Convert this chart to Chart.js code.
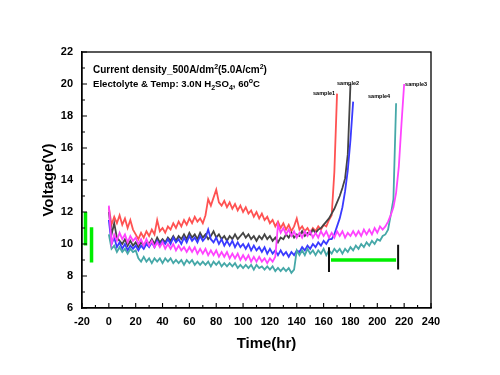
<!DOCTYPE html>
<html>
<head>
<meta charset="utf-8">
<script src="https://cdn.jsdelivr.net/npm/chart.js@4/dist/chart.umd.min.js"></script>
<style>
html,body{margin:0;padding:0;background:#fff;}
#wrap{width:500px;height:375px;position:relative;}
</style>
</head>
<body>
<div id="wrap"><canvas id="c" width="500" height="375"></canvas></div>
<script>
// ---- data ----
const hours = [0,2,4,6,8,10,12,14,16,18,20,22,24,26,28,30,32,34,36,38,40,42,44,46,48,50,52,54,56,58,60,62,64,66,68,70,72,74,76,78,80,82,84,86,88,90,92,94,96,98,100,102,104,106,108,110,112,114,116,118,120,122,124,126,128,130,132,134,136,138,140,142,144,146,148,150,152,154,156,158,160,162,164,166,168,170,172,174,176,178,180,182,184,186,188,190,192,194,196,198,200,202,204,206,208,210,212,214,216,218,220];

const sample1Red = [12.3,11.2,11.7,11.3,11.8,11.2,11.6,11.0,11.5,10.9,
  10.6,10.3,10.7,10.4,10.8,10.5,10.9,10.6,11.5,10.8,
  11.0,10.7,11.1,10.9,11.3,11.0,11.4,11.1,11.5,11.2,
  11.6,11.3,11.7,11.4,11.6,11.3,11.8,12.8,12.4,12.9,
  13.4,12.6,12.4,12.7,12.3,12.6,12.2,12.5,12.1,12.4,
  12.0,12.3,11.9,12.1,11.7,12.0,11.6,11.9,11.5,11.7,
  11.3,11.5,11.1,11.4,11.0,11.3,10.9,11.2,10.8,11.1,
  11.6,10.9,11.1,10.8,11.0,10.7,11.0,10.8,11.1,10.9,
  11.2,11.1,11.5,11.8,14.5,19.4];

const sample2Black = [12.0,10.6,11.3,10.4,10.2,10.0,10.3,9.9,10.2,9.9,
  10.1,9.8,10.1,9.9,10.2,10.0,10.3,10.0,10.4,10.1,
  10.3,10.1,10.4,10.2,10.5,10.2,10.5,10.3,10.6,10.3,
  10.7,10.4,10.6,10.3,10.7,10.4,10.6,10.3,10.5,10.8,
  10.4,10.6,10.3,10.5,10.2,10.5,10.3,10.6,10.3,10.5,
  10.7,10.4,10.6,10.3,10.5,10.2,10.5,10.3,10.6,10.3,
  10.5,10.2,10.4,10.1,10.4,10.3,10.6,10.4,10.7,10.4,
  10.6,10.5,10.8,10.5,10.7,10.6,10.9,10.7,10.9,11.0,
  11.2,11.4,11.6,11.9,12.2,12.6,13.0,13.5,14.1,15.6,
  20.0];

const sample2Blue = [11.5,10.0,10.4,9.8,10.1,9.7,10.0,9.6,9.9,9.7,
  9.9,9.6,9.9,9.7,10.0,9.8,10.1,9.8,10.2,9.9,
  10.2,10.0,10.3,10.0,10.4,10.1,10.3,10.0,10.4,10.1,
  10.5,10.2,10.4,10.1,10.5,10.2,10.4,10.9,10.3,10.1,
  10.4,10.0,10.3,9.9,10.2,9.9,10.2,9.8,10.1,9.8,
  10.0,9.7,10.0,9.6,9.9,9.6,9.8,9.5,9.8,9.4,
  9.7,9.4,9.6,9.3,9.6,9.3,9.5,9.2,9.5,9.3,
  9.6,9.5,9.8,9.6,9.9,9.7,10.0,9.8,10.1,9.9,
  10.2,10.0,10.3,10.3,10.6,11.1,11.6,12.3,13.3,14.6,
  16.5,18.9];

const sample3Magenta = [12.4,10.0,10.6,10.2,10.7,10.3,10.6,10.1,10.5,10.2,
  10.4,10.0,10.3,9.9,10.3,9.9,10.2,9.8,10.1,9.8,
  10.1,9.7,10.0,9.7,10.0,9.6,9.9,9.6,9.8,9.5,
  9.8,9.5,9.8,9.4,9.7,9.4,9.7,9.3,9.6,9.3,
  9.6,9.2,9.5,9.2,9.5,9.1,9.4,9.1,9.4,9.0,
  9.3,9.0,9.3,8.9,9.2,8.9,9.2,8.9,9.1,8.8,
  9.1,8.9,9.2,11.2,10.7,11.0,10.6,10.9,10.5,10.8,
  10.4,10.7,10.4,10.8,10.5,10.8,10.4,10.7,10.4,10.8,
  10.5,10.8,10.4,10.7,10.4,10.8,10.5,10.8,10.4,10.7,
  10.5,10.8,10.5,10.8,10.5,10.9,10.6,10.9,10.6,11.0,
  10.7,11.1,10.9,11.1,11.4,11.8,12.3,13.2,14.8,17.5,
  20.0];

const sample4Teal = [10.6,9.7,9.9,9.5,9.8,9.5,9.7,9.4,9.7,9.5,
  9.6,9.1,8.9,9.2,8.9,9.1,8.8,9.1,8.9,9.1,
  8.8,9.1,8.9,9.1,8.8,9.0,8.8,9.0,8.7,9.0,
  8.8,9.0,8.7,8.9,8.7,8.9,8.7,8.9,8.6,8.9,
  8.7,8.9,8.6,8.8,8.6,8.8,8.6,8.8,8.5,8.7,
  8.5,8.7,8.5,8.7,8.4,8.7,8.5,8.6,8.4,8.6,
  8.4,8.6,8.3,8.5,8.3,8.5,8.3,8.5,8.2,8.4,
  9.6,9.3,9.6,9.3,9.7,9.4,9.6,9.3,9.6,9.4,
  9.7,9.3,9.6,9.4,9.7,9.5,9.7,9.4,9.7,9.5,
  9.8,9.6,9.9,9.7,10.0,9.8,10.1,9.9,10.2,10.0,
  10.3,10.2,10.5,10.6,10.9,11.8,12.8,18.8];

// green range markers and bracket (time, voltage)
const markBar1T = [-17.4, -17.4], markBar1V = [12.0, 9.9];
const markBar2T = [-12.9, -12.9], markBar2V = [11.05, 8.85];
const bracketLeftT = [164, 164], bracketLeftV = [9.8, 8.25];
const bracketRightT = [215.5, 215.5], bracketRightV = [9.95, 8.4];
const bracketLineT = [165.5, 214], bracketLineV = [9.0, 9.0];

// sample labels (text, time, voltage)
const sampleLabels = ['sample1','sample2','sample4','sample3'];
const sampleLabelT = [160.3, 178.2, 201.3, 228.9];
const sampleLabelV = [19.4, 20.06, 19.19, 19.94];

const xTicks = [-20,0,20,40,60,80,100,120,140,160,180,200,220,240];
const yTicks = [6,8,10,12,14,16,18,20,22];

// ---- build ----
function pts(xs, ys){ return ys.map((v,i)=>({x:xs[i], y:v})); }
const FONT = "'Liberation Sans', Arial, sans-serif";

function series(label, vals, color, order){
  return {label, data: pts(hours, vals), borderColor: color, backgroundColor: color,
    borderWidth: 1.8, pointRadius: 0, showLine: true, tension: 0, order};
}
function mark(xs, ys, color, w){
  return {data: pts(xs, ys), borderColor: color, backgroundColor: color, borderWidth: w,
    pointRadius: 0, showLine: true, order: 0, borderCapStyle: 'butt'};
}

const datasets = [
  mark(markBar1T, markBar1V, '#00ee00', 3.5),
  mark(markBar2T, markBar2V, '#00ee00', 3.5),
  mark(bracketLeftT, bracketLeftV, '#111111', 2),
  mark(bracketRightT, bracketRightV, '#111111', 2),
  mark(bracketLineT, bracketLineV, '#00ee00', 3.5),
  series('sample3', sample3Magenta, '#ff44ff', 1),
  series('sample4', sample4Teal, '#46a8a8', 2),
  series('sample2', sample2Blue, '#3a3aff', 3),
  series('sample2b', sample2Black, '#444444', 4),
  series('sample1', sample1Red, '#ff5252', 5)
];

function richText(ctx, x, y, parts, size){
  let cx = x;
  for (const p of parts){
    const s = p.sup || p.sub ? Math.round(size*0.7) : size;
    ctx.font = 'bold ' + s + 'px ' + FONT;
    const dy = p.sup ? -size*0.45 : (p.sub ? size*0.3 : 0);
    ctx.fillText(p.t, cx, y + dy);
    cx += ctx.measureText(p.t).width;
  }
}

const decor = {
  id: 'decor',
  afterDraw(chart){
    const ctx = chart.ctx, a = chart.chartArea;
    const xs = chart.scales.x, ys = chart.scales.y;
    ctx.save();
    // frame
    ctx.strokeStyle = '#000'; ctx.lineWidth = 1.3;
    ctx.strokeRect(a.left, a.top, a.right - a.left, a.bottom - a.top);
    // inward ticks
    ctx.lineWidth = 1.1;
    ctx.beginPath();
    for (let v = -20; v <= 240; v += 10){
      const px = xs.getPixelForValue(v);
      const len = (v % 20 === 0) ? 5 : 3;
      ctx.moveTo(px, a.bottom); ctx.lineTo(px, a.bottom - len);
    }
    for (let v = 6; v <= 22; v += 1){
      const py = ys.getPixelForValue(v);
      const len = (v % 2 === 0) ? 5 : 3;
      ctx.moveTo(a.left, py); ctx.lineTo(a.left + len, py);
    }
    ctx.stroke();
    // axis titles
    ctx.fillStyle = '#000';
    ctx.font = 'bold 15px ' + FONT;
    ctx.textAlign = 'center'; ctx.textBaseline = 'middle';
    ctx.fillText('Time(hr)', (a.left + a.right)/2 + 10, 344);
    ctx.save();
    ctx.translate(49, (a.top + a.bottom)/2);
    ctx.rotate(-Math.PI/2);
    ctx.fillText('Voltage(V)', 0, 0);
    ctx.restore();
    // annotation text
    ctx.textAlign = 'left'; ctx.textBaseline = 'alphabetic';
    richText(ctx, a.left + 11, a.top + 21, [
      {t:'Current density_500A/dm'},{t:'2',sup:true},{t:'(5.0A/cm'},{t:'2',sup:true},{t:')'}], 10);
    richText(ctx, a.left + 11, a.top + 35, [
      {t:'Electolyte & Temp: 3.0N H'},{t:'2',sub:true},{t:'SO'},{t:'4',sub:true},{t:', 60'},{t:'o',sup:true},{t:'C'}], 9.6);
    // sample labels
    ctx.font = 'bold 5.5px ' + FONT;
    ctx.textAlign = 'center'; ctx.textBaseline = 'middle';
    sampleLabels.forEach((s, i) => {
      ctx.fillText(s, xs.getPixelForValue(sampleLabelT[i]), ys.getPixelForValue(sampleLabelV[i]));
    });
    ctx.restore();
  }
};

new Chart(document.getElementById('c'), {
  type: 'scatter',
  data: { datasets },
  plugins: [decor],
  options: {
    responsive: false,
    animation: false,
    devicePixelRatio: 1,
    layout: { padding: { left: 0, top: 52, right: 69, bottom: 0 } },
    plugins: { legend: { display: false }, tooltip: { enabled: false } },
    scales: {
      x: {
        type: 'linear', min: -20, max: 240,
        afterBuildTicks: s => { s.ticks = xTicks.map(v => ({value: v})); },
        afterFit: s => { s.height = 67; },
        grid: { display: false, drawTicks: false },
        border: { display: true, color: '#000', width: 1.3 },
        ticks: { color: '#000', font: { family: FONT, size: 11, weight: 'bold' }, padding: 7, maxRotation: 0, autoSkip: false }
      },
      y: {
        type: 'linear', min: 6, max: 22,
        afterBuildTicks: s => { s.ticks = yTicks.map(v => ({value: v})); },
        afterFit: s => { s.width = 82; },
        grid: { display: false, drawTicks: false },
        border: { display: true, color: '#000', width: 1.3 },
        ticks: { color: '#000', font: { family: FONT, size: 11, weight: 'bold' }, padding: 9 }
      }
    }
  }
});
</script>
</body>
</html>
